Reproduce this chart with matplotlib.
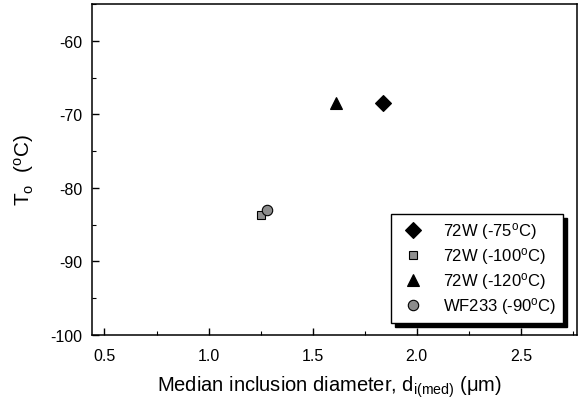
import matplotlib
matplotlib.use("Agg")
import matplotlib.pyplot as plt
from matplotlib.ticker import MultipleLocator

plt.rcParams['font.family'] = ['Liberation Sans', 'DejaVu Sans']
plt.rcParams['mathtext.fontset'] = 'custom'
plt.rcParams['mathtext.rm'] = 'Liberation Sans'
plt.rcParams['mathtext.it'] = 'Liberation Sans:italic'
plt.rcParams['axes.unicode_minus'] = False

labels = ["72W (-75$^\\mathrm{o}$C)", "72W (-100$^\\mathrm{o}$C)",
          "72W (-120$^\\mathrm{o}$C)", "WF233 (-90$^\\mathrm{o}$C)"]
diam = [1.84, 1.25, 1.61, 1.28]
t0 = [-68.5, -83.7, -68.5, -83.0]
markers = ['D', 's', '^', 'o']
sizes = [8, 6, 9, 7.5]
colors = ['black', '#909090', 'black', '#8c8c8c']

fig = plt.figure(figsize=(5.8, 4.02), dpi=100)
ax = fig.add_axes([0.1586, 0.164, 0.8364, 0.8236])

for i in range(len(labels)):
    ax.plot(diam[i], t0[i], linestyle='none', marker=markers[i], ms=sizes[i],
            color=colors[i], markeredgecolor='black', markeredgewidth=0.8,
            label=labels[i])

ax.set_xlim(0.44, 2.77)
ax.set_ylim(-100, -55)
ax.xaxis.set_major_locator(MultipleLocator(0.5))
ax.xaxis.set_minor_locator(MultipleLocator(0.25))
ax.yaxis.set_major_locator(MultipleLocator(10))
ax.yaxis.set_minor_locator(MultipleLocator(5))
ax.tick_params(which='both', direction='in', top=False, right=False, labelsize=11.5)
ax.tick_params(which='major', length=5, width=1)
ax.tick_params(axis='x', which='major', pad=9)
ax.tick_params(axis='y', which='major', pad=7)
ax.tick_params(which='minor', length=3, width=0.8)
for s in ax.spines.values():
    s.set_linewidth(1.1)

ax.set_xlabel("Median inclusion diameter, d$_\\mathrm{i(med)}$ ($\\mathrm{\\mu}$m)",
              fontsize=14.5)
ax.xaxis.set_label_coords(0.49, -0.115)
ax.set_ylabel("T$_\\mathrm{o}$  ($^\\mathrm{o}$C)", fontsize=15, labelpad=10)

leg = ax.legend(loc='lower right', bbox_to_anchor=(0.971, 0.036), borderaxespad=0,
                fontsize=12, shadow={'ox': 3, 'oy': -3, 'color': 'black', 'alpha': 1},
                fancybox=False, edgecolor='black', framealpha=1,
                handlelength=1.8, handletextpad=0.9, borderpad=0.4, labelspacing=0.24)
leg.get_frame().set_linewidth(1)

fig.savefig("out.png", dpi=100)
